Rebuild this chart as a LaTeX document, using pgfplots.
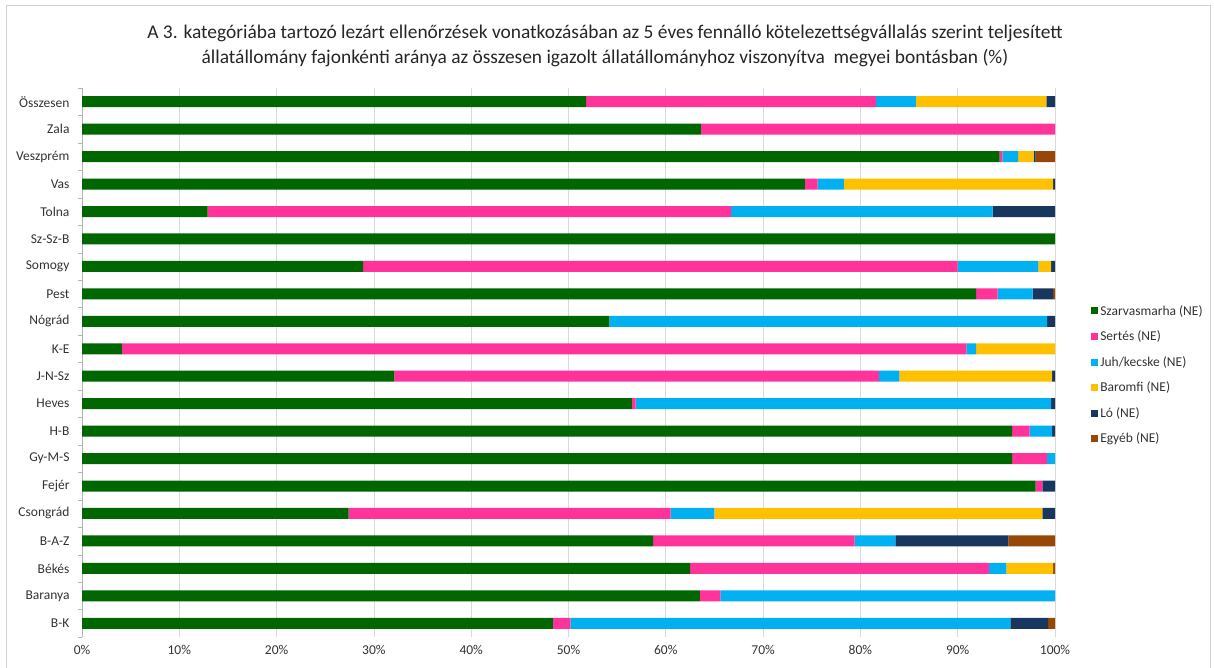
\documentclass[border=0pt]{standalone}
\usepackage{fontspec}
\setmainfont{Carlito}
\usepackage{pgfplots}
\usepackage{pgfplotstable}
\pgfplotsset{compat=1.18}
\definecolor{cGreen}{RGB}{0,102,0}
\definecolor{cPink}{RGB}{255,51,153}
\definecolor{cBlue}{RGB}{0,176,240}
\definecolor{cYellow}{RGB}{255,192,0}
\definecolor{cNavy}{RGB}{23,55,94}
\definecolor{cBrown}{RGB}{151,71,6}
\pgfplotstableread{
y green pink blue yellow navy brown
0 48.4 1.8 45.2 0 3.9 0.7
1 63.5 2.1 34.4 0 0 0
2 62.5 30.7 1.8 4.8 0 0.2
3 58.7 20.7 4.2 0 11.6 4.8
4 27.4 33.1 4.5 33.7 1.3 0
5 98.0 0.7 0 0 1.3 0
6 95.6 3.6 0.8 0 0 0
7 95.6 1.8 2.3 0 0.3 0
8 56.5 0.4 42.7 0 0.4 0
9 32.1 49.8 2.1 15.7 0.3 0
10 4.1 86.8 1.0 8.1 0 0
11 54.2 0 45.0 0 0.8 0
12 91.9 2.2 3.6 0 2.1 0.2
13 28.9 61.1 8.3 1.3 0.4 0
14 100 0 0 0 0 0
15 12.9 53.8 26.9 0 6.4 0
16 74.3 1.3 2.7 21.5 0.2 0
17 94.3 0.3 1.6 1.6 0.2 2.0
18 63.6 36.4 0 0 0 0
19 51.8 29.8 4.1 13.4 0.9 0
}\datatable
\begin{document}
\begin{tikzpicture}
\useasboundingbox (0pt,0pt) rectangle (1214pt,668pt);
\draw[gray!35, line width=1pt] (6pt,-2pt) -- (6pt,662pt) -- (1210pt,662pt) -- (1210pt,-2pt);
\node[align=center, font=\fontsize{19.4}{25}\selectfont, text=black!85] at (605pt,622pt)
 {A 3. kategóriába tartozó lezárt ellenőrzések vonatkozásában az 5 éves fennálló kötelezettségvállalás szerint teljesített\\
 állatállomány fajonkénti aránya az összesen igazolt állatállományhoz viszonyítva\ \ megyei bontásban (\%)};
\begin{axis}[
  at={(82pt,31pt)}, anchor=south west,
  scale only axis, width=973pt, height=549pt,
  xbar stacked, bar width=11pt,
  xmin=0, xmax=100, ymin=-0.5, ymax=19.5,
  xtick={0,10,...,100},
  xticklabel={\pgfmathprintnumber{\tick}\%},
  ytick={0,...,19},
  yticklabels={B-K,Baranya,Békés,B-A-Z,Csongrád,Fejér,Gy-M-S,H-B,Heves,J-N-Sz,K-E,Nógrád,Pest,Somogy,Sz-Sz-B,Tolna,Vas,Veszprém,Zala,Összesen},
  minor ytick={-0.5,0.5,...,19.5},
  major tick length=0pt, minor tick length=4pt,
  tick align=outside,
  minor tick style={gray!60},
  axis x line*=bottom, axis y line*=left,
  x axis line style={draw=none},
  y axis line style={draw=gray!60},
  xmajorgrids, major grid style={gray!30, line width=0.8pt},
  ticklabel style={font=\fontsize{13.5}{15}\selectfont, text=black!80},
  /pgf/number format/assume math mode=true,
  xticklabel style={yshift=-5pt},
  yticklabel style={xshift=-9pt},
  legend style={draw=none, fill=none, at={(1.034,0.612)}, anchor=north west,
    font=\fontsize{13.5}{15}\selectfont, text=black!80, row sep=10.2pt},
  legend cell align=left,
  legend image code/.code={\fill[#1] (0pt,-3.5pt) rectangle (7pt,3.5pt);},
  every axis plot/.append style={draw=none},
]
\addplot[fill=cGreen] table[x=green,y=y]{\datatable};
\addplot[fill=cPink] table[x=pink,y=y]{\datatable};
\addplot[fill=cBlue] table[x=blue,y=y]{\datatable};
\addplot[fill=cYellow] table[x=yellow,y=y]{\datatable};
\addplot[fill=cNavy] table[x=navy,y=y]{\datatable};
\addplot[fill=cBrown] table[x=brown,y=y]{\datatable};
\legend{Szarvasmarha (NE),Sertés (NE),Juh/kecske (NE),Baromfi (NE),Ló (NE),Egyéb (NE)}
\end{axis}
\end{tikzpicture}
\end{document}
